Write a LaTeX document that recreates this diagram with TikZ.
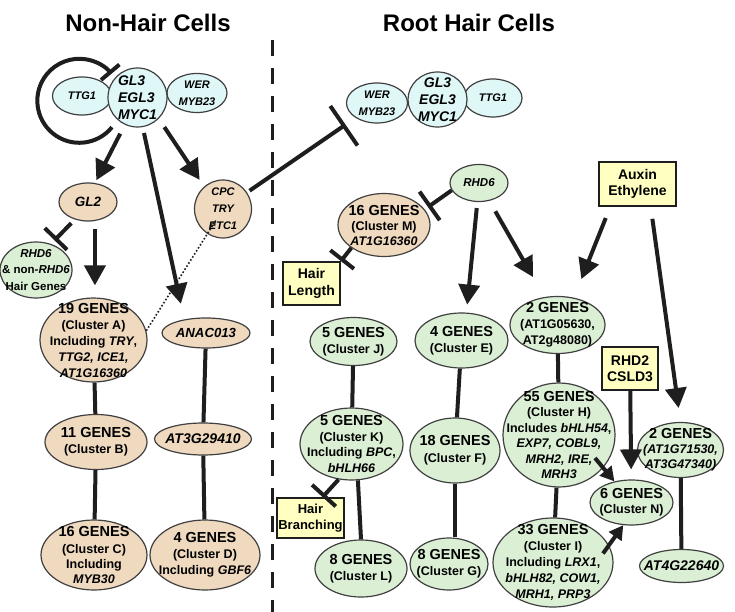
\documentclass[tikz,border=0pt]{standalone}
\usepackage{fontspec}
\setmainfont{Liberation Sans}
\usetikzlibrary{arrows.meta,shapes.geometric,calc}
\definecolor{tanfill}{HTML}{EFD9BF}
\definecolor{bluefill}{HTML}{E0F7F7}
\definecolor{greenfill}{HTML}{DBEFD5}
\definecolor{boxfill}{HTML}{FFFFC2}
\definecolor{ink}{HTML}{1E1E1E}
\definecolor{rim}{HTML}{404040}
\newcommand{\gname}[1]{\textit{#1}}
\newcommand{\hdline}[1]{{\fontsize{14.5}{16}\selectfont #1}}

\begin{document}
\begin{tikzpicture}[x=1pt, y=-1pt,
  gene/.style={ellipse, draw=rim, line width=1.2pt, inner sep=0pt},
  tannode/.style={gene, fill=tanfill},
  bluenode/.style={gene, fill=bluefill},
  greennode/.style={gene, fill=greenfill},
  txt/.style={align=center, inner sep=0pt, font=\bfseries\fontsize{12.5}{#1}\selectfont},
  txt/.default=16,
  itxt/.style={align=center, inner sep=0pt, font=\bfseries\itshape\fontsize{#1}{17}\selectfont},
  sigbox/.style={rectangle, draw=ink, line width=1.8pt, fill=boxfill, align=center, inner sep=0pt, font=\bfseries\fontsize{14}{16.5}\selectfont},
  act/.style={draw=ink, line width=4pt, -{Triangle[length=20pt,width=21pt]}},
  actsm/.style={draw=ink, line width=4pt, -{Triangle[length=14pt,width=15pt]}},
  inh/.style={draw=ink, line width=4pt, -{Bar[width=#1]}},
  link/.style={draw=ink, line width=4pt},
]
\path[fill=white] (0,0) rectangle (735,612);
\useasboundingbox (0,0) rectangle (735,612);

% Headings
\node[font=\bfseries\fontsize{24}{28}\selectfont] (ttlnon) at (148,23) {Non-Hair Cells};
\node[font=\bfseries\fontsize{24}{28}\selectfont] (ttlroot) at (469,23) {Root Hair Cells};

% Divider
\draw[ink, line width=3pt, dash pattern=on 16pt off 12pt] (272,40) -- (272,612);

% Non-hair cells
\node[bluenode, minimum width=59pt, minimum height=38pt, label={[itxt=11]center:TTG1}] (ttgL) at (82,96) {};
\node[bluenode, minimum width=60pt, minimum height=39pt, label={[itxt=11]center:{WER\\MYB23}}] (werL) at (197,93) {};
\node[bluenode, minimum width=59pt, minimum height=59pt, label={[itxt=14, align=left]center:{GL3\\EGL3\\MYC1}}] (gl3L) at (137.5,97.5) {};

\node[tannode, minimum width=58pt, minimum height=38pt, label={[itxt=13.5]center:GL2}] (gl2) at (88,202) {};
\node[greennode, minimum width=72pt, minimum height=56pt, label={[txt, font=\bfseries\fontsize{11.5}{16.5}\selectfont]center:{\gname{RHD6}\\\& non-\gname{RHD6}\\Hair Genes}}] (rhd6L) at (36,270) {};
\node[tannode, minimum width=57pt, minimum height=58pt, label={[itxt=11]center:{CPC\\TRY\\ETC1}}] (cpc) at (223,209) {};

\node[tannode, minimum width=107pt, minimum height=84pt, label={[txt]center:{\hdline{19 GENES}\\(Cluster A)\\Including \gname{TRY},\\\gname{TTG2, ICE1,}\\\gname{AT1G16360}}}] (clA) at (93.5,340) {};
\node[tannode, minimum width=88pt, minimum height=30pt, label={[itxt=13.2]center:ANAC013}] (anac) at (206,333) {};
\node[tannode, minimum width=102pt, minimum height=55pt, label={[txt]center:{\hdline{11 GENES}\\(Cluster B)}}] (clB) at (96,442) {};
\node[tannode, minimum width=97pt, minimum height=32pt, label={[itxt=14]center:AT3G29410}] (at3g) at (203,439) {};
\node[tannode, minimum width=106pt, minimum height=70pt, label={[txt=15]center:{\hdline{16 GENES}\\[2pt](Cluster C)\\Including\\\gname{MYB30}}}] (clC) at (94,555) {};
\node[tannode, minimum width=110pt, minimum height=70pt, label={[txt]center:{\hdline{4 GENES}\\(Cluster D)\\Including \gname{GBF6}}}] (clD) at (205,555) {};

% Root hair cells
\node[bluenode, minimum width=61pt, minimum height=40pt, label={[itxt=11]center:{WER\\MYB23}}] (werR) at (377,103) {};
\node[bluenode, minimum width=58pt, minimum height=38pt, label={[itxt=11]center:TTG1}] (ttgR) at (493,98) {};
\node[bluenode, minimum width=59pt, minimum height=55pt, label={[itxt=14]center:{GL3\\EGL3\\MYC1}}] (gl3R) at (437.5,99.5) {};

\node[greennode, minimum width=58pt, minimum height=37pt, label={[itxt=11.5]center:RHD6}] (rhd6R) at (479,183) {};
\node[tannode, minimum width=92pt, minimum height=63pt, label={[txt=15]center:{\hdline{16 GENES}\\(Cluster M)\\\gname{AT1G16360}}}] (clM) at (384,225) {};
\node[sigbox, minimum width=57pt, minimum height=43pt] (hairLen) at (311.5,283.5) {Hair\\Length};
\node[sigbox, minimum width=77pt, minimum height=44pt] (aux) at (637.5,184) {Auxin\\Ethylene};

\node[greennode, minimum width=87pt, minimum height=48pt, label={[txt]center:{\hdline{5 GENES}\\(Cluster J)}}] (clJ) at (353.5,341.5) {};
\node[greennode, minimum width=93pt, minimum height=55pt, label={[txt]center:{\hdline{4 GENES}\\(Cluster E)}}] (clE) at (461.5,340.5) {};
\node[greennode, minimum width=95pt, minimum height=57pt, label={[txt]center:{\hdline{2 GENES}\\(AT1G05630,\\AT2g48080)}}] (cl2a) at (557.5,325) {};
\node[sigbox, minimum width=56pt, minimum height=43pt] (rhd2) at (630,368.5) {RHD2\\CSLD3};

\node[greennode, minimum width=103pt, minimum height=72pt, label={[txt=15.5]center:{\hdline{5 GENES}\\(Cluster K)\\Including \gname{BPC},\\\gname{bHLH66}}}] (clK) at (351.5,444) {};
\node[greennode, minimum width=90pt, minimum height=65pt, label={[txt=17]center:{\hdline{18 GENES}\\(Cluster F)}}] (clF) at (455,450.5) {};
\node[greennode, minimum width=112pt, minimum height=104pt, label={[txt=15.5]center:{\hdline{55 GENES}\\(Cluster H)\\Includes \gname{bHLH54},\\\gname{EXP7, COBL9,}\\\gname{MRH2, IRE,}\\\gname{MRH3}}}] (clH) at (559,435) {};
\node[greennode, minimum width=86pt, minimum height=55pt, label={[txt=15]center:{\hdline{2 GENES}\\\gname{(AT1G71530,}\\\gname{AT3G47340)}}}] (cl2b) at (680.5,450) {};

\node[sigbox, minimum width=67pt, minimum height=40pt, font=\bfseries\fontsize{13}{16}\selectfont] (hairBr) at (310.5,518) {Hair\\Branching};
\node[greennode, minimum width=92pt, minimum height=57pt, label={[txt]center:{\hdline{8 GENES}\\(Cluster L)}}] (clL) at (361,568.5) {};
\node[greennode, minimum width=78pt, minimum height=52pt, label={[txt]center:{\hdline{8 GENES}\\(Cluster G)}}] (clG) at (449,564) {};
\node[greennode, minimum width=83pt, minimum height=45pt, label={[txt=15]center:{\hdline{6 GENES}\\(Cluster N)}}] (clN) at (631.5,502.5) {};
\node[greennode, minimum width=120pt, minimum height=89pt, label={[txt]center:{\hdline{33 GENES}\\(Cluster I)\\Including \gname{LRX1},\\\gname{bHLH82, COW1,}\\\gname{MRH1, PRP3}}}] (clI) at (553,562.5) {};
\node[greennode, minimum width=84pt, minimum height=33pt, label={[itxt=14]center:AT4G22640}] (at4g) at (681.5,566) {};

% Non-hair connectors
\draw[inh=24pt] (gl3L.-128) ++(-7,6) arc[start angle=-39, end angle=-320, radius=42pt];
\draw[act, shorten <=10pt, shorten >=3pt] (gl3L.-115) -- (gl2.70);
\draw[act, shorten <=6pt, shorten >=16pt] (gl3L.-80) -- (anac.148);
\draw[act, shorten <=10pt, shorten >=8pt] (gl3L.-45) -- (cpc.130);
\draw[inh=31pt, shorten <=5pt, shorten >=5pt] (gl2.233) -- (rhd6L.60);
\draw[act, shorten <=8pt, shorten >=12pt] (gl2.-70) -- (gl2.-70 |- clA.north);
\draw[ink, line width=1.6pt, dash pattern=on 1.6pt off 2pt, -{Stealth[length=6pt,width=5pt]}, shorten >=13pt] (clA.10) -- (cpc.center);
\draw[inh=48pt, shorten <=3pt, shorten >=12pt] (cpc) -- (werR);
\draw[link] (clA) -- (clB);
\draw[link] (clB) -- (clC);
\draw[link] (anac) -- (at3g);
\draw[link] (at3g) -- (clD);

% Root hair connectors
\draw[inh=35pt, shorten >=4pt] (rhd6R.195) -- (clM.21);
\draw[inh=30pt] (clM.215) -- (hairLen.north east);
\draw[act, shorten <=6pt, shorten >=8pt] (rhd6R.-95) -- (clE.80);
\draw[act, shorten <=12pt, shorten >=23pt] (rhd6R.-60) -- (cl2a.115);
\draw[act, shorten <=12pt, shorten >=20pt] (aux.-140) -- (cl2a.59);
\draw[act, shorten <=12pt, shorten >=14pt] (aux.-60) -- (cl2b.north);
\draw[link] (cl2a) -- (clH);
\draw[link] (clH) -- (clI);
\draw[act, shorten >=10pt] (rhd2) -- (clN);
\draw[actsm] ($(clH.center)+(36,23)$) -- (clN.129);
\draw[actsm] ($(clI.center)+(50,-9)$) -- (clN.-110);
\draw[link] (cl2b) -- (at4g);
\draw[link] (clJ) -- (clK);
\draw[link] (clK.-80) -- (clL.north);
\draw[inh=32pt] (clK.-110) -- (hairBr.60);
\draw[link] (clE) -- (clF);
\draw[link] (clF) -- (clF |- clG.north);

\end{tikzpicture}
\end{document}
